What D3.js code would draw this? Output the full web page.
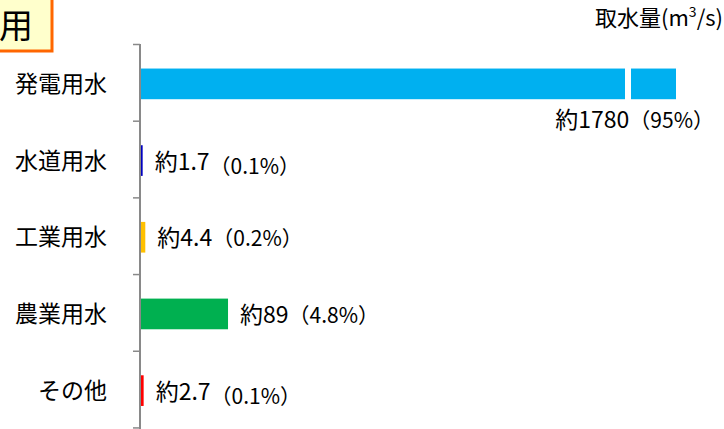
<!DOCTYPE html>
<html>
<head>
<meta charset="utf-8">
<script src="https://cdn.jsdelivr.net/npm/d3@7"></script>
<style>
  body { margin: 0; background: #fff; }
  text { font-family: "Noto Sans CJK JP", "Noto Sans", sans-serif; fill: #000; }
</style>
</head>
<body>
<div id="chart"></div>
<script>
// chart data
var categories = ["発電用水", "水道用水", "工業用水", "農業用水", "その他"];
var volumes = [1780, 1.7, 4.4, 89, 2.7];          // m3/s
var shares = ["95%", "0.1%", "0.2%", "4.8%", "0.1%"];
var barColors = ["#00B0F0", "#0000C0", "#FFC000", "#00B050", "#FF0000"];
var breakValue = 495;   // where the long bar is cut

var width = 724, height = 429;
var axisX = 140;

var svg = d3.select("#chart")
  .append("svg")
    .attr("width", width)
    .attr("height", height);

// title box, cut off by the left edge
svg.append("rect")
  .attr("x", -60).attr("y", -10)
  .attr("width", 112).attr("height", 61)
  .attr("fill", "#FFFFCC")
  .attr("stroke", "#FF6600")
  .attr("stroke-width", 3);
svg.append("text")
  .attr("x", -1).attr("y", 38)
  .style("font-size", "34px")
  .text("用");

// unit label
var unit = svg.append("text")
  .attr("x", 723).attr("y", 26)
  .attr("text-anchor", "end")
  .style("font-size", "22px");
unit.append("tspan").text("取水量(m");
unit.append("tspan").attr("dy", -9).style("font-size", "14px").text("3");
unit.append("tspan").attr("dy", 9).text("/s)");

// scales
var y = d3.scaleBand()
  .domain(categories)
  .range([44, 430.5])
  .paddingInner(0.6)
  .paddingOuter(0.32);

// piecewise scale: true scale up to the break, squeezed after it
var x = d3.scaleLinear()
  .domain([0, breakValue, 1780])
  .range([axisX + 1, 625, 676]);

var rows = categories.map(function(c, i) {
  return {cat: c, value: volumes[i], share: shares[i], color: barColors[i]};
});

// bars
svg.selectAll("rect.bar")
  .data(rows)
  .join("rect")
    .attr("class", "bar")
    .attr("x", x(0))
    .attr("y", d => y(d.cat))
    .attr("width", d => x(d.value) - x(0))
    .attr("height", y.bandwidth())
    .attr("fill", d => d.color);

// break in the long bar
svg.append("rect")
  .attr("x", x(breakValue))
  .attr("y", y(categories[0]) - 1)
  .attr("width", 6)
  .attr("height", y.bandwidth() + 2)
  .attr("fill", "#fff");

// category axis
var yAxis = d3.axisLeft(y).tickSize(0).tickPadding(33);
svg.append("g")
  .attr("transform", `translate(${axisX},0)`)
  .call(yAxis)
  .call(g => g.select(".domain").remove())
  .selectAll("text")
    .style("font-size", "23px")
    .attr("dy", "0.35em");

svg.append("line")
  .attr("x1", axisX).attr("x2", axisX)
  .attr("y1", 44).attr("y2", height + 2)
  .attr("stroke", "#898989")
  .attr("stroke-width", 2);

// tick marks between categories
svg.selectAll("line.sep")
  .data(d3.range(categories.length + 1))
  .join("line")
    .attr("class", "sep")
    .attr("x1", axisX - 7).attr("x2", axisX)
    .attr("y1", i => 44 + i * y.step() + 0.5)
    .attr("y2", i => 44 + i * y.step() + 0.5)
    .attr("stroke", "#898989")
    .attr("stroke-width", 1.5);

// value labels
var labels = svg.selectAll("text.val")
  .data(rows)
  .join("text")
    .attr("class", "val")
    .attr("text-anchor", (d, i) => i === 0 ? "end" : "start")
    .attr("x", (d, i) => i === 0 ? x(d.value) + 38 : x(d.value) + 12)
    .attr("y", (d, i) => i === 0 ? y(d.cat) + y.bandwidth() + 29
                                 : y(d.cat) + y.bandwidth() / 2 + 9)
    .style("font-size", "23px");

labels.append("tspan").text(d => "約" + d.value);
// the tiny shares sit a little lower in the original
labels.append("tspan")
  .attr("dy", d => d.share === "0.1%" ? 4 : 0)
  .style("font-size", "21px")
  .text(d => "（" + d.share + "）");
</script>
</body>
</html>
